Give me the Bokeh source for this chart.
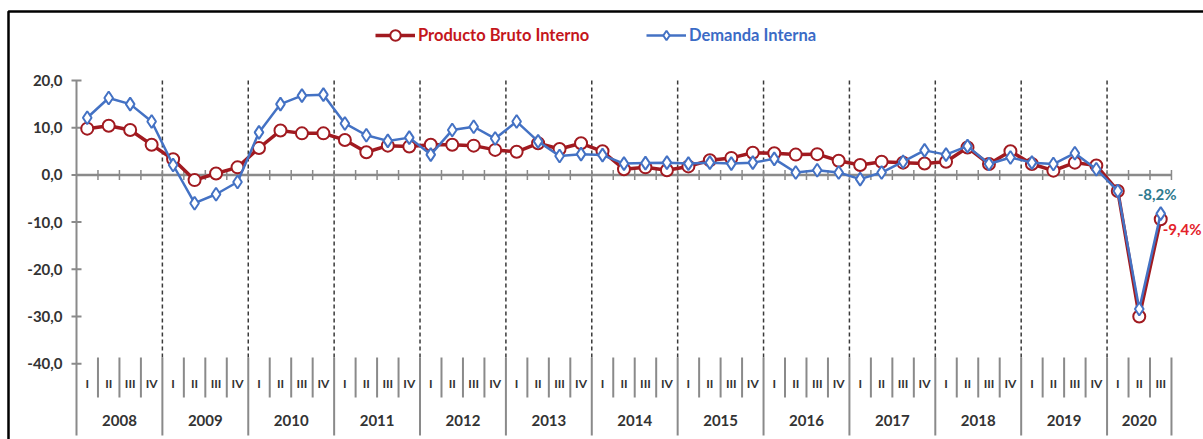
from bokeh.plotting import figure
from bokeh.models import Range1d, Legend, LegendItem, ColumnDataSource
from bokeh.core.properties import value
from bokeh.embed import file_html
from bokeh.resources import INLINE

# ---- data: quarterly growth rates (% change vs same quarter of previous year)
years = ["2008", "2009", "2010", "2011", "2012", "2013", "2014",
         "2015", "2016", "2017", "2018", "2019", "2020"]
quarter_names = ["I", "II", "III", "IV"]

pbi = [9.8, 10.4, 9.5, 6.4,
       3.3, -1.1, 0.3, 1.6,
       5.7, 9.4, 8.8, 8.8,
       7.4, 4.8, 6.2, 6.0,
       6.4, 6.4, 6.2, 5.3,
       4.9, 6.7, 5.5, 6.7,
       5.0, 1.2, 1.6, 1.0,
       1.8, 3.1, 3.6, 4.7,
       4.6, 4.3, 4.4, 3.0,
       2.1, 2.8, 2.6, 2.4,
       2.8, 5.8, 2.3, 5.0,
       2.3, 0.9, 2.6, 2.0,
       -3.4, -30.0, -9.4]

demanda = [12.1, 16.3, 15.0, 11.3,
           2.1, -6.0, -4.1, -1.5,
           9.0, 15.0, 16.8, 17.0,
           10.9, 8.4, 7.2, 7.9,
           4.3, 9.5, 10.2, 7.7,
           11.3, 7.1, 4.0, 4.4,
           4.2, 2.4, 2.5, 2.6,
           2.4, 2.6, 2.4, 2.6,
           3.4, 0.5, 1.0, 0.5,
           -0.9, 0.5, 2.8, 5.2,
           4.3, 6.1, 2.3, 3.7,
           2.6, 2.3, 4.6, 1.2,
           -3.4, -28.4, -8.2]

y_ticks = [20, 10, 0, -10, -20, -30, -40]
y_tick_labels = ["20,0", "10,0", "0,0", "-10,0", "-20,0", "-30,0", "-40,0"]

# ---- layout helpers (pixel positions on the 1203 x 439 canvas -> data units)
W, H = 1203, 439
X_AXIS_PX, Q_PX = 76.0, 21.47      # left edge of first quarter, width of a quarter
Y_ZERO_PX, Y_UNIT_PX = 174.4, 4.72  # pixel row of 0,0 and pixels per percentage point


def xd(px):
    return -0.5 + (px - X_AXIS_PX) / Q_PX


def yd(py):
    return (Y_ZERO_PX - py) / Y_UNIT_PX


RED = "#A11A20"
RED_TEXT = "#C4161C"
RED_LABEL = "#E3222A"
BLUE = "#4472C4"
BLUE_TEXT = "#3B6BC6"
TEAL_LABEL = "#2F7A8E"
AXIS_GRAY = "#8A8A8A"
DARK = "#333333"
FONT_NAME = "Lato"
FONT = value(FONT_NAME)

n = len(pbi)
xs = list(range(n))

p = figure(width=W, height=H, x_range=Range1d(xd(0), xd(W)), y_range=Range1d(yd(H), yd(0)),
           min_border=0, toolbar_location=None, output_backend="svg",
           x_axis_type=None, y_axis_type=None)
p.outline_line_color = None
p.background_fill_color = "white"
p.border_fill_color = "white"

# outer frame of the chart box
p.line([xd(8), xd(8), xd(W + 10)], [yd(H + 10), yd(11), yd(11)], line_color="black", line_width=2.5)

# ---- year / quarter structure
n_years = len(years)
year_bounds = [min(4 * k - 0.5, n - 0.5) for k in range(n_years + 1)]
inner_year_bounds = year_bounds[1:-1]

# dashed year separators in the plotting area
p.segment(x0=inner_year_bounds, y0=[20] * len(inner_year_bounds),
          x1=inner_year_bounds, y1=[yd(357)] * len(inner_year_bounds),
          line_color="#3A3A3A", line_width=1.5, line_dash="4 3")

# solid year separators in the category band
p.segment(x0=year_bounds[1:], y0=[yd(357)] * n_years,
          x1=year_bounds[1:], y1=[yd(435)] * n_years,
          line_color=AXIS_GRAY, line_width=2)

# quarter separators in the category band
q_bounds = [i + 0.5 for i in range(n - 1) if (i + 1) % 4 != 0]
p.segment(x0=q_bounds, y0=[yd(357)] * len(q_bounds),
          x1=q_bounds, y1=[yd(397)] * len(q_bounds),
          line_color=AXIS_GRAY, line_width=2)

# quarter and year labels
p.text(x=xs, y=[yd(383)] * n, text=[quarter_names[i % 4] for i in xs],
       text_font=FONT, text_font_size="12px", text_font_style="bold",
       text_color=DARK, text_align="center", text_baseline="middle")
year_centers = [(year_bounds[k] + year_bounds[k + 1]) / 2 for k in range(n_years)]
p.text(x=year_centers, y=[yd(420)] * n_years, text=years,
       text_font=FONT, text_font_size="15px", text_font_style="bold",
       text_color=DARK, text_align="center", text_baseline="middle")

# ---- value axis
p.segment(x0=[-0.5], y0=[20], x1=[-0.5], y1=[yd(435)], line_color=AXIS_GRAY, line_width=2)
p.segment(x0=[xd(71)] * len(y_ticks), y0=y_ticks, x1=[xd(81)] * len(y_ticks), y1=y_ticks,
          line_color=AXIS_GRAY, line_width=2)
p.text(x=[xd(62)] * len(y_ticks), y=y_ticks, text=y_tick_labels,
       text_font=FONT, text_font_size="15px", text_font_style="bold",
       text_color=DARK, text_align="right", text_baseline="middle")

# zero line with quarter ticks
p.segment(x0=[-0.5], y0=[0], x1=[n - 0.5], y1=[0], line_color=AXIS_GRAY, line_width=2.5)
tick_x = [i + 0.5 for i in range(n)]
p.segment(x0=tick_x, y0=[yd(Y_ZERO_PX - 5)] * n, x1=tick_x, y1=[yd(Y_ZERO_PX + 5)] * n,
          line_color=AXIS_GRAY, line_width=1.5)

# ---- series
src = ColumnDataSource(dict(x=xs, pbi=pbi, demanda=demanda))

pbi_line = p.line("x", "pbi", source=src, line_color=RED, line_width=3.5)
pbi_pts = p.scatter("x", "pbi", source=src, marker="circle", size=12,
                    fill_color="white", line_color=RED, line_width=2)
dem_line = p.line("x", "demanda", source=src, line_color=BLUE, line_width=2.5)
dem_pts = p.scatter("x", "demanda", source=src, marker="diamond", size=13,
                    fill_color="white", line_color=BLUE, line_width=2)

# latest values
last = n - 1
fmt = lambda v: f"{v:.1f}%".replace(".", ",")
p.text(x=[last], y=[demanda[last]], text=[fmt(demanda[last])], x_offset=-23, y_offset=-20,
       text_font=FONT, text_font_size="15px", text_font_style="bold",
       text_color=TEAL_LABEL, text_align="left", text_baseline="middle")
p.text(x=[last], y=[pbi[last]], text=[fmt(pbi[last])], x_offset=2, y_offset=10,
       text_font=FONT, text_font_size="15px", text_font_style="bold",
       text_color=RED_LABEL, text_align="left", text_baseline="middle")

# ---- legends
def make_legend(label, renderers, color, left_px, glyph_h):
    lg = Legend(items=[LegendItem(label=label, renderers=renderers)],
                location=(left_px, H - 35 - glyph_h / 2), orientation="horizontal",
                glyph_width=40, glyph_height=glyph_h, label_standoff=3,
                padding=0, margin=0, spacing=0,
                label_text_font=FONT_NAME, label_text_font_size="16.5px",
                label_text_font_style="bold", label_text_color=color,
                label_height=glyph_h,
                background_fill_alpha=0, border_line_alpha=0)
    p.add_layout(lg)


make_legend("Producto Bruto Interno", [pbi_line, pbi_pts], RED_TEXT, 375, 26)
make_legend("Demanda Interna", [dem_line, dem_pts], BLUE_TEXT, 646, 24)

open("out.html", "w").write(file_html(p, INLINE))
